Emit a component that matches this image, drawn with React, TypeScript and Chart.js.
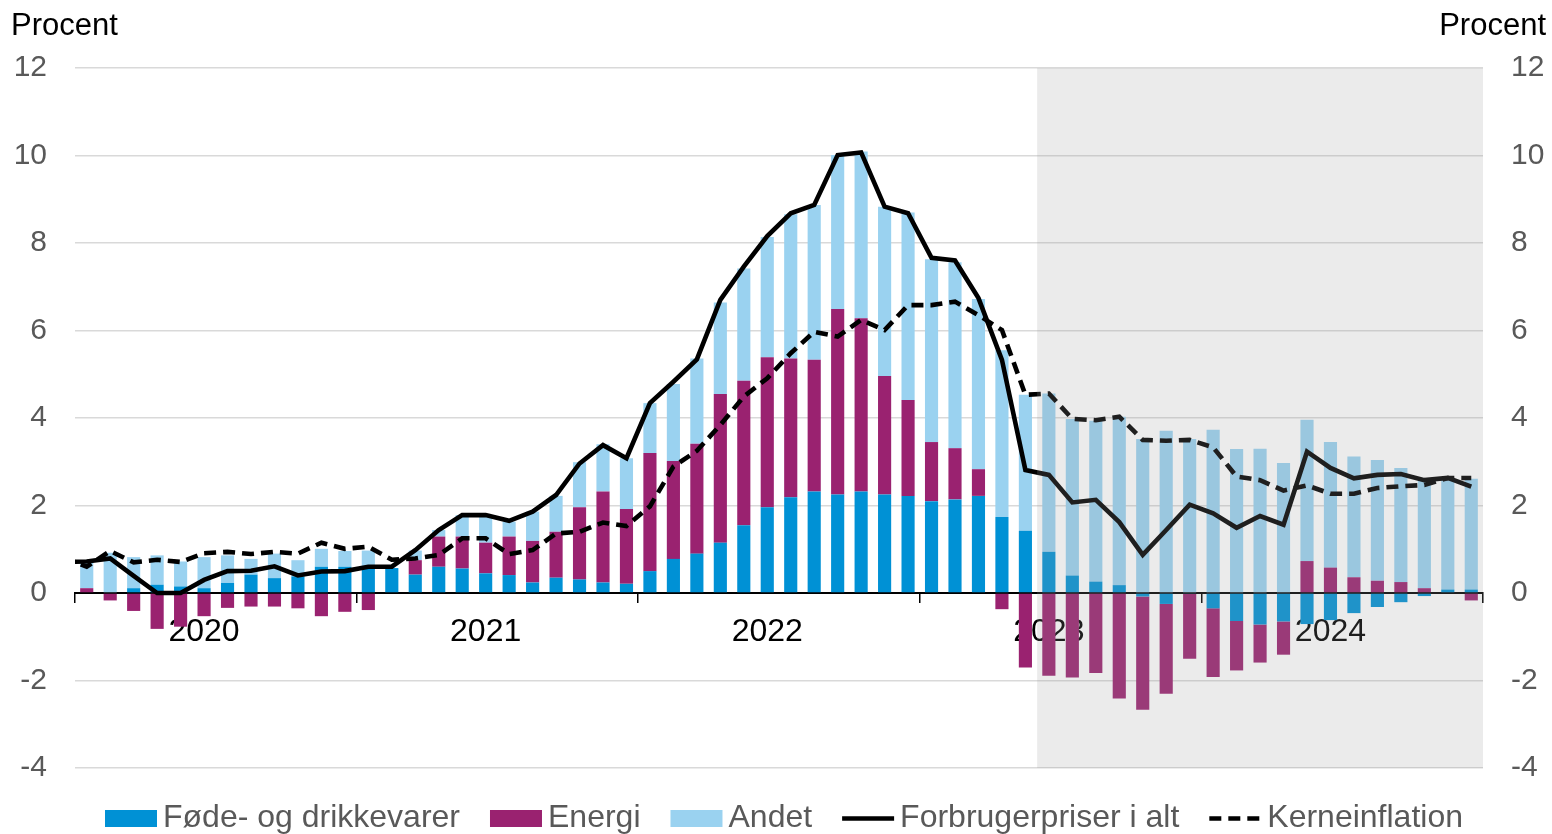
import React, { useEffect, useRef } from 'react';
import { Chart, registerables } from 'chart.js';

Chart.register(...registerables);

const FONT = '"Liberation Sans", Arial, Helvetica, sans-serif';

const monthNames = ['jan', 'feb', 'mar', 'apr', 'maj', 'jun', 'jul', 'aug', 'sep', 'okt', 'nov', 'dec'];
const years = [2020, 2021, 2022, 2023, 2024];
// First category (dec 2019) lies just outside the visible range; the lines start from it
const categories = ['dec 2019', ...years.flatMap((y) => monthNames.map((m) => `${m} ${y}`))];
const firstShown = 'jan 2020';
const lastShown = 'dec 2024';
const yearLabelMonth = 'jun';
const shadeFrom = 'jun 2023';

const yMin = -4;
const yMax = 12;
const yStep = 2;

// Contributions, jan 2020 - dec 2024 (percentage points)
const food = [
  0.00, 0.00, 0.11, 0.19, 0.15, 0.11, 0.23, 0.42, 0.34, 0.38, 0.60, 0.60,
  0.60, 0.57, 0.42, 0.60, 0.56, 0.45, 0.41, 0.24, 0.35, 0.31, 0.24, 0.21,
  0.50, 0.78, 0.90, 1.15, 1.55, 1.96, 2.19, 2.32, 2.25, 2.32, 2.25, 2.22,
  2.10, 2.14, 2.22, 1.74, 1.42, 0.94, 0.40, 0.26, 0.18, -0.08, -0.25, -0.02,
  -0.35, -0.64, -0.72, -0.65, -0.71, -0.62, -0.46, -0.32, -0.21, -0.07, 0.08, 0.08,
];
const energy = [
  0.11, -0.17, -0.41, -0.82, -0.77, -0.53, -0.34, -0.31, -0.31, -0.35, -0.53, -0.43,
  -0.39, 0.00, 0.33, 0.69, 0.73, 0.70, 0.88, 0.95, 1.05, 1.65, 2.08, 1.71,
  2.70, 2.24, 2.51, 3.40, 3.30, 3.43, 3.17, 3.01, 4.24, 3.96, 2.71, 2.19,
  1.35, 1.17, 0.61, -0.37, -1.70, -1.89, -1.93, -1.83, -2.41, -2.59, -2.05, -1.48,
  -1.57, -1.13, -0.87, -0.76, 0.73, 0.58, 0.36, 0.28, 0.25, 0.11, 0.00, -0.17,
];
const other = [
  0.60, 0.92, 0.71, 0.67, 0.57, 0.71, 0.63, 0.36, 0.56, 0.37, 0.41, 0.36,
  0.37, 0.00, 0.22, 0.15, 0.49, 0.59, 0.34, 0.67, 0.82, 1.03, 1.08, 1.16,
  1.14, 1.76, 1.95, 2.09, 2.57, 2.75, 3.30, 3.54, 3.52, 3.81, 3.87, 4.29,
  4.18, 4.25, 3.89, 3.81, 3.11, 3.62, 3.58, 3.68, 3.85, 3.52, 3.71, 3.52,
  3.73, 3.29, 3.30, 2.97, 3.23, 2.87, 2.76, 2.76, 2.61, 2.46, 2.50, 2.53,
];
// Lines, dec 2019 - dec 2024 (per cent)
const total = [
  0.71,
  0.72, 0.79, 0.39, 0.00, 0.00, 0.30, 0.50, 0.51, 0.61, 0.40, 0.49, 0.50,
  0.60, 0.60, 0.98, 1.44, 1.78, 1.78, 1.65, 1.86, 2.24, 2.96, 3.38, 3.08,
  4.34, 4.83, 5.34, 6.70, 7.46, 8.16, 8.68, 8.87, 10.01, 10.07, 8.83, 8.68,
  7.66, 7.60, 6.74, 5.33, 2.81, 2.70, 2.07, 2.13, 1.62, 0.87, 1.44, 2.02,
  1.82, 1.49, 1.76, 1.56, 3.23, 2.86, 2.62, 2.70, 2.72, 2.58, 2.63, 2.43,
];
const core = [
  0.82,
  0.60, 0.96, 0.70, 0.76, 0.71, 0.91, 0.94, 0.89, 0.94, 0.90, 1.15, 1.01,
  1.06, 0.76, 0.79, 0.87, 1.25, 1.25, 0.89, 0.98, 1.36, 1.40, 1.61, 1.53,
  1.98, 2.89, 3.25, 3.84, 4.49, 4.91, 5.48, 5.97, 5.86, 6.24, 6.01, 6.58,
  6.58, 6.66, 6.35, 6.01, 4.53, 4.56, 3.98, 3.95, 4.03, 3.50, 3.48, 3.50,
  3.33, 2.66, 2.58, 2.34, 2.46, 2.27, 2.27, 2.40, 2.44, 2.47, 2.63, 2.63,
];

const seriesNames = ['Føde- og drikkevarer', 'Energi', 'Andet', 'Forbrugerpriser i alt', 'Kerneinflation'];
const COL_FOOD = '#0091D5';
const COL_ENERGY = '#9A2270';
const COL_OTHER = '#9AD2F0';

const titlePlugin = {
  id: 'titles',
  afterDraw(chart: any) {
    const { ctx } = chart;
    ctx.save();
    ctx.fillStyle = '#000';
    ctx.font = `31px ${FONT}`;
    ctx.textBaseline = 'alphabetic';
    ctx.textAlign = 'left';
    ctx.fillText('Procent', 11, 35);
    ctx.textAlign = 'right';
    ctx.fillText('Procent', 1546, 35);
    ctx.restore();
  },
};

const shadePlugin = {
  id: 'shade',
  afterDraw(chart: any) {
    const { ctx, chartArea } = chart;
    const x = chart.scales.x;
    const i = categories.indexOf(shadeFrom);
    const px = (x.getPixelForValue(i) + x.getPixelForValue(i - 1)) / 2;
    ctx.save();
    ctx.fillStyle = 'rgba(154,154,154,0.2)';
    ctx.fillRect(px, chartArea.top, chartArea.right - px, chartArea.bottom - chartArea.top);
    ctx.restore();
  },
};

const legendPlugin = {
  id: 'customLegend',
  afterDraw(chart: any) {
    const { ctx } = chart;
    const boxW = 52;
    const boxH = 17;
    const boxTop = 810;
    const gap = 6;
    const spacing = 30;
    const baseline = 826.5;
    ctx.save();
    ctx.font = `32px ${FONT}`;
    ctx.textBaseline = 'alphabetic';
    ctx.textAlign = 'left';
    let x = 105;
    const order = [2, 3, 4, 0, 1];
    order.forEach((di) => {
      const ds = chart.data.datasets[di];
      if (ds.type === 'line') {
        ctx.beginPath();
        ctx.strokeStyle = ds.borderColor;
        ctx.lineWidth = ds.borderWidth;
        ctx.setLineDash(ds.borderDash || []);
        ctx.moveTo(x, boxTop + boxH / 2);
        ctx.lineTo(x + boxW, boxTop + boxH / 2);
        ctx.stroke();
        ctx.setLineDash([]);
      } else {
        ctx.fillStyle = ds.backgroundColor;
        ctx.fillRect(x, boxTop, boxW, boxH);
      }
      x += boxW + gap;
      ctx.fillStyle = '#595959';
      ctx.fillText(ds.label, x, baseline);
      x += ctx.measureText(ds.label).width + spacing;
    });
    ctx.restore();
  },
};

export default function App() {
  const canvasRef = useRef<HTMLCanvasElement | null>(null);

  useEffect(() => {
    document.body.style.margin = '0';
    const canvas = canvasRef.current;
    if (!canvas) return;
    Chart.defaults.font.family = FONT;

    const yearTickColor = (c: any) =>
      c.type !== 'tick' || c.index % 12 === 0 ? '#000' : 'rgba(0,0,0,0)';

    const chart = new Chart(canvas, {
      type: 'bar',
      data: {
        labels: categories,
        datasets: [
          {
            type: 'line',
            label: seriesNames[3],
            data: total,
            borderColor: '#000',
            backgroundColor: '#000',
            borderWidth: 4.6,
            pointRadius: 0,
            pointHoverRadius: 0,
            tension: 0,
            stack: 'total',
            order: 0,
            clip: 0,
          } as any,
          {
            type: 'line',
            label: seriesNames[4],
            data: core,
            borderColor: '#000',
            backgroundColor: '#000',
            borderWidth: 4.6,
            borderDash: [12, 7],
            pointRadius: 0,
            pointHoverRadius: 0,
            tension: 0,
            stack: 'core',
            order: 0,
            clip: 0,
          } as any,
          {
            type: 'bar',
            label: seriesNames[0],
            data: [null, ...food],
            backgroundColor: COL_FOOD,
            stack: 'bars',
            order: 1,
          },
          {
            type: 'bar',
            label: seriesNames[1],
            data: [null, ...energy],
            backgroundColor: COL_ENERGY,
            stack: 'bars',
            order: 1,
          },
          {
            type: 'bar',
            label: seriesNames[2],
            data: [null, ...other],
            backgroundColor: COL_OTHER,
            stack: 'bars',
            order: 1,
          },
        ],
      },
      options: {
        responsive: false,
        animation: false,
        events: [],
        datasets: {
          bar: { categoryPercentage: 1, barPercentage: 0.56, borderWidth: 0 },
        },
        layout: { padding: { left: 0, right: 0, top: 68, bottom: 66 } },
        plugins: {
          legend: { display: false },
          tooltip: { enabled: false },
          title: { display: false },
        },
        scales: {
          x: {
            type: 'category',
            min: firstShown,
            max: lastShown,
            position: { y: 0 } as any,
            stacked: true,
            offset: true,
            z: 1,
            grid: {
              offset: true,
              drawOnChartArea: false,
              drawTicks: true,
              tickLength: 9,
              lineWidth: 1.5,
              color: yearTickColor,
              tickColor: yearTickColor,
              tickWidth: 1.5,
            },
            border: { display: true, color: '#000', width: 2 },
            ticks: {
              autoSkip: false,
              maxRotation: 0,
              minRotation: 0,
              padding: 11,
              color: '#000',
              font: { size: 32, family: FONT },
              callback: (v: any) => {
                const lab = categories[v as number] || '';
                return lab.startsWith(yearLabelMonth + ' ') ? lab.slice(4) : '';
              },
            },
            afterFit: (s: any) => {
              s.paddingLeft = 0;
              s.paddingRight = 0;
              s.paddingTop = 0;
              s.paddingBottom = 0;
            },
          } as any,
          y: {
            position: 'left',
            min: yMin,
            max: yMax,
            stacked: true,
            ticks: {
              stepSize: yStep,
              color: '#595959',
              padding: 28,
              font: { size: 30, family: FONT },
            },
            grid: { color: '#d9d9d9', lineWidth: 1.5, drawTicks: false },
            border: { display: false },
            afterFit: (s: any) => {
              s.width = 75;
              s.paddingTop = 0;
              s.paddingBottom = 0;
            },
          } as any,
          y2: {
            position: 'right',
            min: yMin,
            max: yMax,
            ticks: {
              stepSize: yStep,
              color: '#595959',
              padding: 28,
              font: { size: 30, family: FONT },
            },
            grid: { display: false, drawTicks: false },
            border: { display: false },
            afterFit: (s: any) => {
              s.width = 69;
              s.paddingTop = 0;
              s.paddingBottom = 0;
            },
          } as any,
        },
      },
      plugins: [titlePlugin, shadePlugin, legendPlugin],
    } as any);

    return () => chart.destroy();
  }, []);

  return (
    <div style={{ width: 1552, height: 834 }}>
      <canvas ref={canvasRef} width={1552} height={834} style={{ display: 'block' }} />
    </div>
  );
}
